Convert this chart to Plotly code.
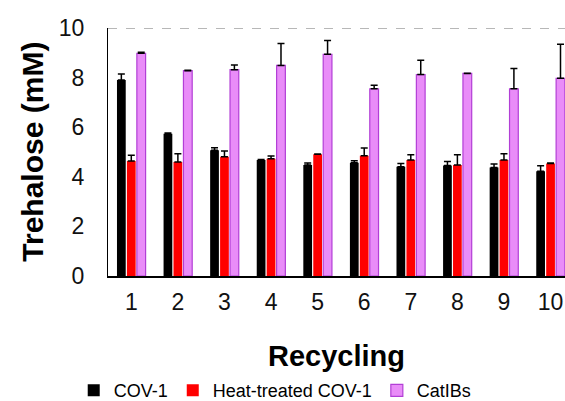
import plotly.graph_objects as go

cycles = [1, 2, 3, 4, 5, 6, 7, 8, 9, 10]
cycle_labels = ["1", "2", "3", "4", "5", "6", "7", "8", "9", "10"]

cov1 = [7.90, 5.74, 5.07, 4.68, 4.48, 4.57, 4.41, 4.46, 4.37, 4.22]
cov1_err = [0.25, 0.03, 0.10, 0.02, 0.08, 0.08, 0.13, 0.16, 0.15, 0.23]

heat = [4.64, 4.60, 4.81, 4.73, 4.91, 4.85, 4.68, 4.48, 4.68, 4.54]
heat_err = [0.23, 0.33, 0.23, 0.11, 0.01, 0.31, 0.21, 0.41, 0.25, 0.02]

catibs = [8.98, 8.28, 8.32, 8.49, 8.94, 7.55, 8.12, 8.17, 7.55, 7.97]
catibs_err = [0.04, 0.02, 0.19, 0.88, 0.56, 0.14, 0.58, 0.01, 0.82, 1.37]

series = [
    ("COV-1", cov1, cov1_err, "#000000", "#000000", 0),
    ("Heat-treated COV-1", heat, heat_err, "#FF0000", "#FF0000", 0),
    ("CatIBs", catibs, catibs_err, "#E98CF8", "#B23FD6", 1.2),
]

FONT = "Liberation Sans, Arial, sans-serif"

fig = go.Figure()
for name, vals, errs, col, lcol, lw in series:
    fig.add_trace(go.Bar(
        x=cycles, y=vals, name=name,
        marker=dict(color=col, line=dict(color=lcol, width=lw)),
        error_y=dict(type="data", array=errs, arrayminus=[0] * len(errs),
                     symmetric=False, color="#000000", thickness=1.5, width=3.5),
    ))

fig.add_shape(type="line", xref="paper", yref="y", x0=0, x1=1, y0=10, y1=10,
              line=dict(color="#A0A0A0", width=1.5, dash="dash"))

fig.update_layout(
    width=565, height=401,
    margin=dict(l=108, r=0, t=28, b=125, autoexpand=False),
    paper_bgcolor="white", plot_bgcolor="white",
    barmode="group", bargap=0.36, bargroupgap=0.12,
    font=dict(family=FONT, color="#000000"),
    showlegend=True,
    legend=dict(orientation="h", x=-0.075, y=-0.462, xanchor="left", yanchor="middle",
                font=dict(size=18, family=FONT, color="#000000"),
                itemwidth=30, tracegroupgap=0, bgcolor="rgba(0,0,0,0)"),
    xaxis=dict(range=[0.5, 10.31], tickmode="array", tickvals=cycles, ticktext=cycle_labels,
               showline=True, linecolor="#000000", linewidth=1.5, ticks="",
               showgrid=False, zeroline=False,
               tickfont=dict(size=23, family=FONT, color="#111111"),
               ticklabelstandoff=5),
    yaxis=dict(range=[0, 10], tickvals=[0, 2, 4, 6, 8, 10],
               showline=True, linecolor="#000000", linewidth=1.2, ticks="",
               showgrid=False, zeroline=False,
               tickfont=dict(size=23, family=FONT, color="#111111"),
               ticklabelstandoff=18),
)

fig.add_annotation(text="<b>Trehalose (mM)</b>", xref="paper", yref="paper",
                   x=-0.167, y=0.5, xanchor="center", yanchor="middle",
                   textangle=-90, showarrow=False,
                   font=dict(size=30, family=FONT, color="#000000"))
fig.add_annotation(text="<b>Recycling</b>", xref="paper", yref="paper",
                   x=0.5, y=-0.322, xanchor="center", yanchor="middle",
                   showarrow=False,
                   font=dict(size=29, family=FONT, color="#000000"))

fig.write_html("out.html")
